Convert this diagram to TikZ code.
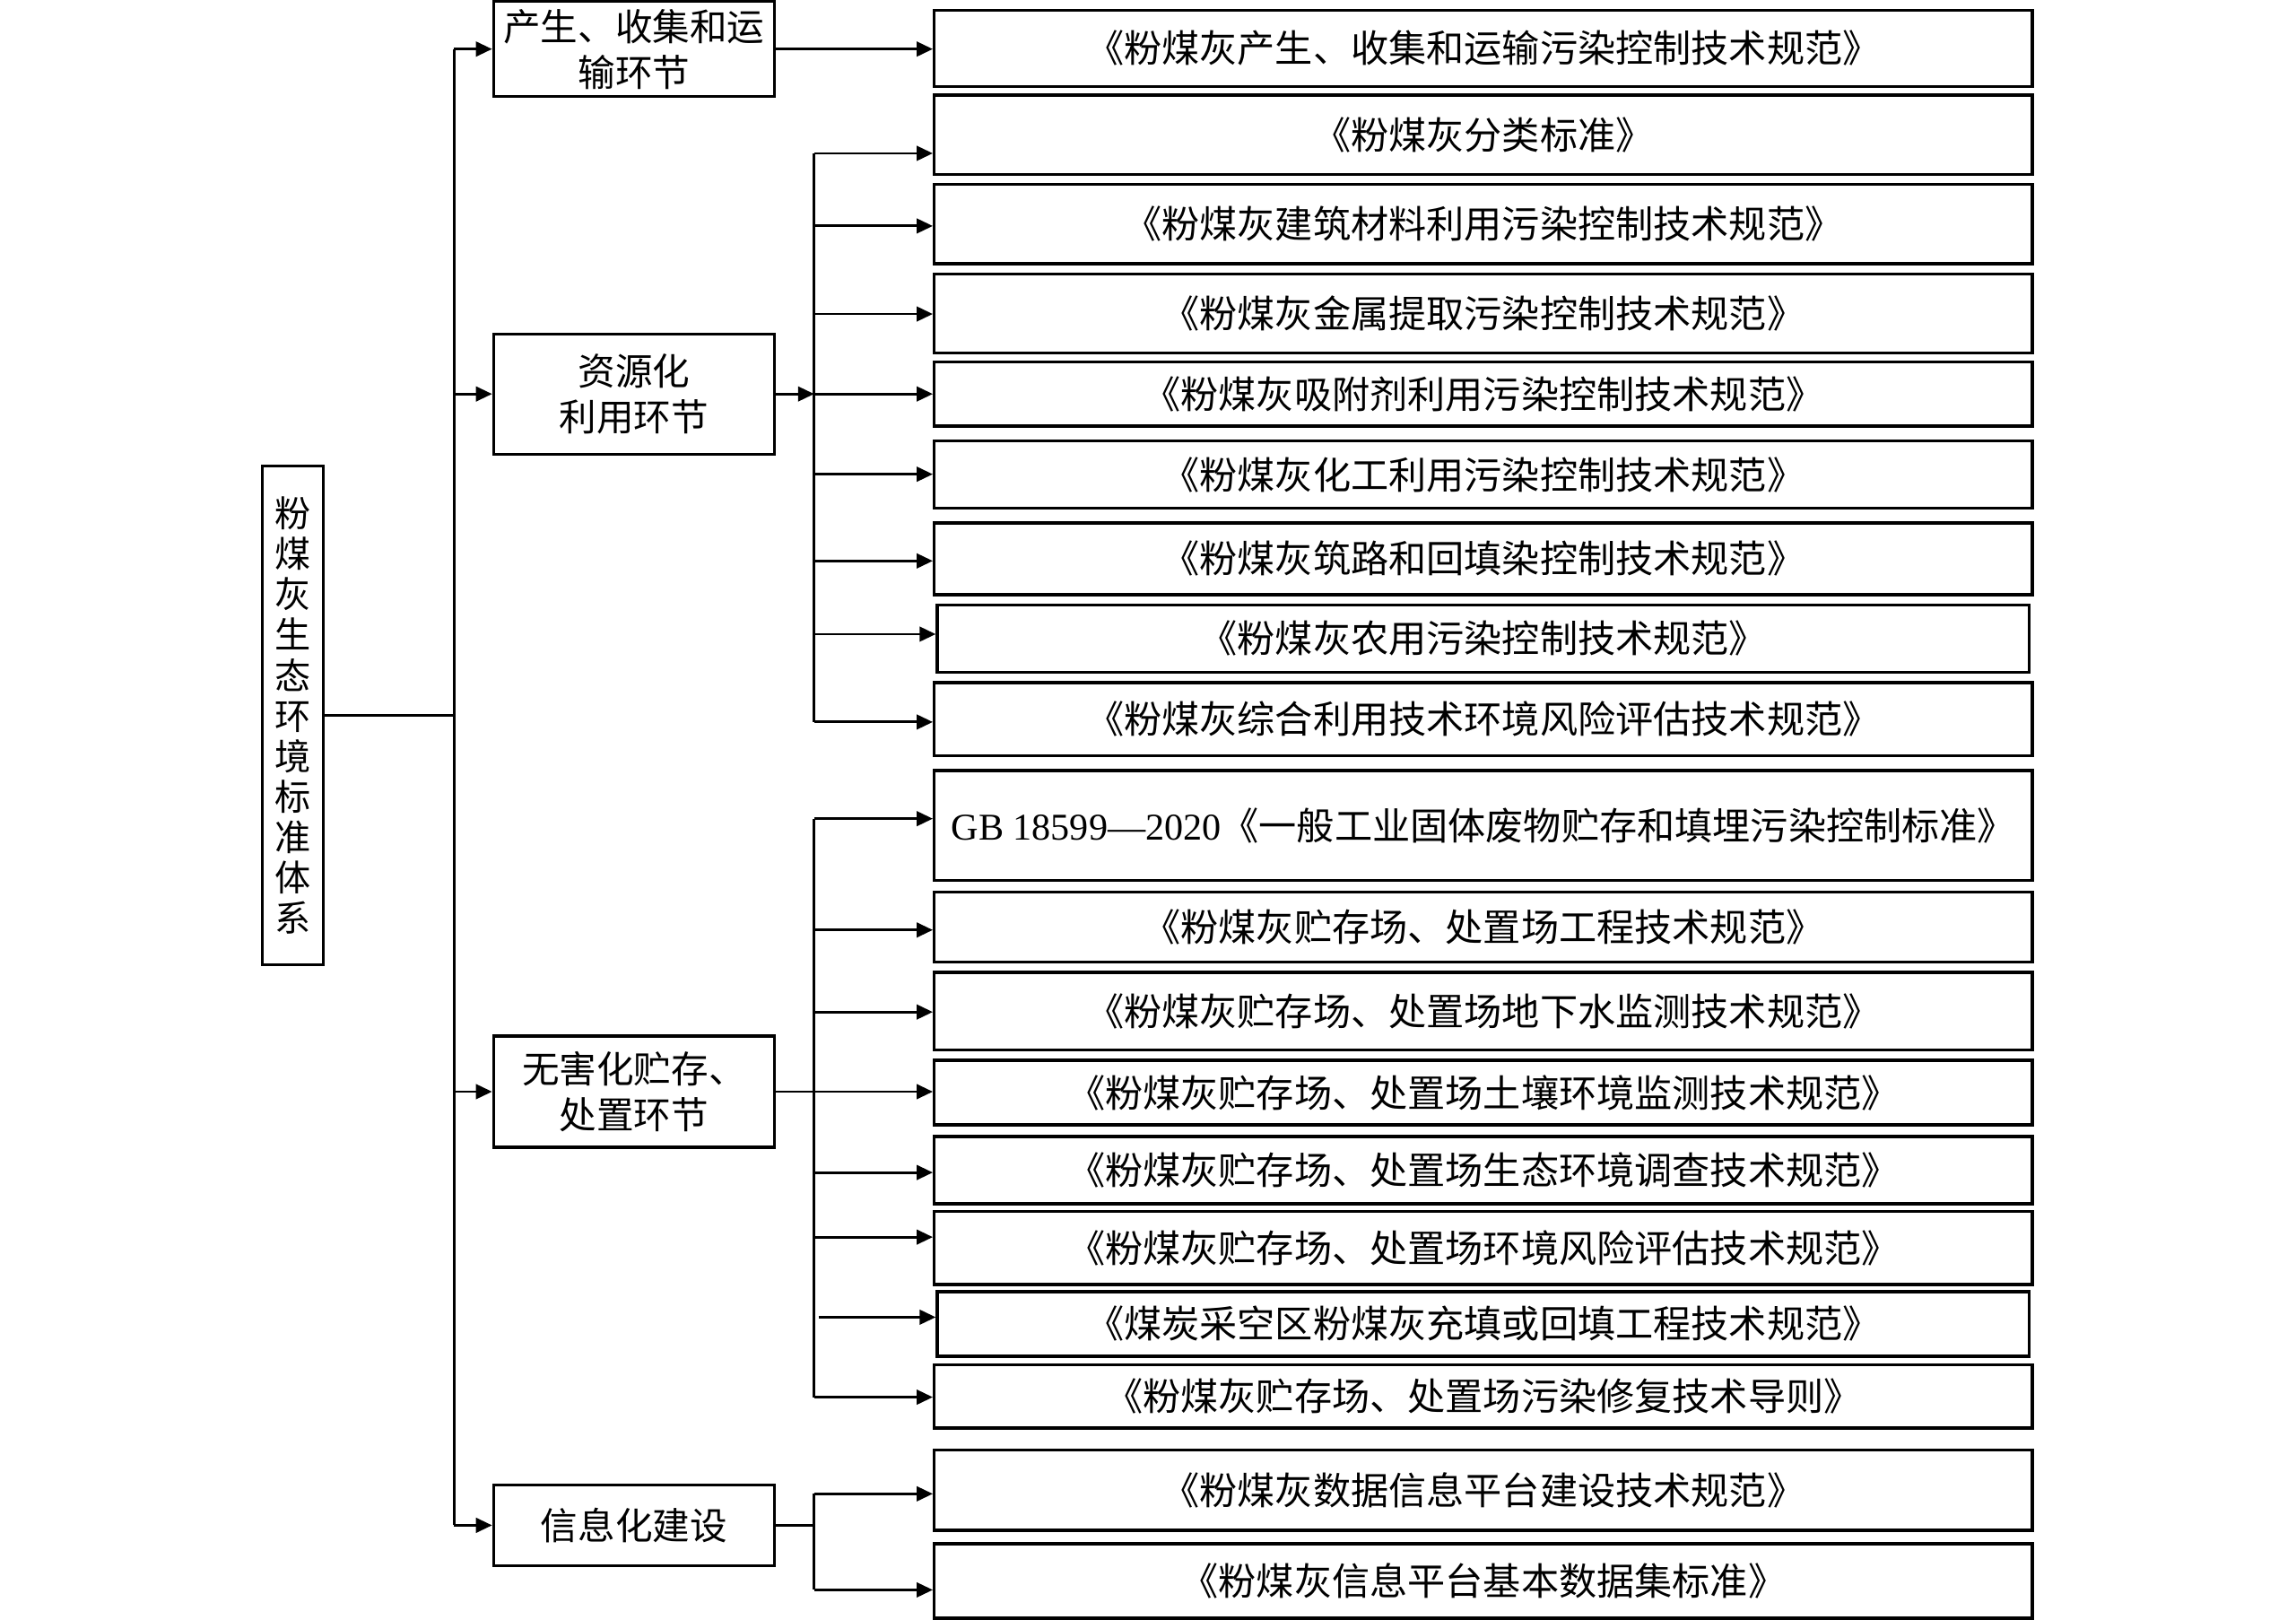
\documentclass[tikz,border=0pt]{standalone}
\usepackage{fontspec}
\setmainfont{Liberation Serif}
\newfontfamily\cjk{Noto Sans CJK SC}
\usetikzlibrary{arrows.meta}
\begin{document}
\begin{tikzpicture}[x=0.02cm,y=-0.02cm,
 line width=1pt,
 arr/.style={-{Triangle[length=0.22cm,width=0.2cm]}},
 rbox/.style={draw, line width=1.2pt, minimum width=15cm, inner sep=0pt, font=\cjk\fontsize{14.7pt}{17pt}\selectfont},
 mbox/.style={draw, line width=1.1pt, minimum width=3.84cm, inner sep=0pt, align=center, font=\cjk\fontsize{14.5pt}{17.8pt}\selectfont},
 rootbox/.style={draw, line width=1.1pt, minimum width=0.84cm, minimum height=6.82cm, inner sep=0pt, align=center, font=\cjk\fontsize{14pt}{15.7pt}\selectfont}
]
\useasboundingbox (0,0) rectangle (1568,1106);

% root
\node[rootbox] (root) at (200,488.5) {粉\\煤\\灰\\生\\态\\环\\境\\标\\准\\体\\系};

% middle boxes
\node[mbox, minimum height=1.3cm]  (A) at (433,33.5) {产生、收集和运\\输环节};
\node[mbox, minimum height=1.64cm] (B) at (433,269) {资源化\\利用环节};
\node[mbox, minimum height=1.52cm] (C) at (433,745.4) {无害化贮存、\\处置环节};
\node[mbox, minimum height=1.1cm]  (D) at (433,1041.5) {信息化建设};

% right boxes
\node[rbox, minimum height=1.04cm] (r1) at (1013,33) {《粉煤灰产生、收集和运输污染控制技术规范》};
\node[rbox, minimum height=1.08cm] (r2) at (1013,92) {《粉煤灰分类标准》};
\node[rbox, minimum height=1.08cm] (r3) at (1013,153) {《粉煤灰建筑材料利用污染控制技术规范》};
\node[rbox, minimum height=1.08cm] (r4) at (1013,214) {《粉煤灰金属提取污染控制技术规范》};
\node[rbox, minimum height=0.88cm] (r5) at (1013,269) {《粉煤灰吸附剂利用污染控制技术规范》};
\node[rbox, minimum height=0.92cm] (r6) at (1013,324) {《粉煤灰化工利用污染控制技术规范》};
\node[rbox, minimum height=0.98cm] (r7) at (1013,381.5) {《粉煤灰筑路和回填染控制技术规范》};
\node[rbox, minimum height=0.92cm, minimum width=14.92cm] (r8) at (1013,436) {《粉煤灰农用污染控制技术规范》};
\node[rbox, minimum height=1.0cm] (r9) at (1013,491) {《粉煤灰综合利用技术环境风险评估技术规范》};
\node[rbox, minimum height=1.5cm] (r10) at (1013,563.5) {{\rmfamily GB 18599—2020}《一般工业固体废物贮存和填埋污染控制标准》};
\node[rbox, minimum height=0.96cm] (r11) at (1013,633) {《粉煤灰贮存场、处置场工程技术规范》};
\node[rbox, minimum height=1.06cm] (r12) at (1013,690.5) {《粉煤灰贮存场、处置场地下水监测技术规范》};
\node[rbox, minimum height=0.88cm] (r13) at (1013,746) {《粉煤灰贮存场、处置场土壤环境监测技术规范》};
\node[rbox, minimum height=0.92cm] (r14) at (1013,799) {《粉煤灰贮存场、处置场生态环境调查技术规范》};
\node[rbox, minimum height=1.0cm] (r15) at (1013,852) {《粉煤灰贮存场、处置场环境风险评估技术规范》};
\node[rbox, minimum height=0.88cm, minimum width=14.92cm] (r16) at (1013,904) {《煤炭采空区粉煤灰充填或回填工程技术规范》};
\node[rbox, minimum height=0.86cm] (r17) at (1013,953.5) {《粉煤灰贮存场、处置场污染修复技术导则》};
\node[rbox, minimum height=1.1cm] (r18) at (1013,1017.5) {《粉煤灰数据信息平台建设技术规范》};
\node[rbox, minimum height=1.02cm] (r19) at (1013,1079.5) {《粉煤灰信息平台基本数据集标准》};

% main trunk
\coordinate (mt) at (310,33.5);
\coordinate (mb) at (310,1041.5);
\draw (root.east) -- (root.east -| mt);
\draw (mt) -- (mb);
\draw[arr] (mt) -- (A.west);
\draw[arr] (B.west -| mt) -- (B.west);
\draw[arr] (C.west -| mt) -- (C.west);
\draw[arr] (mb) -- (D.west);

% A branch
\draw[arr] (A.east) -- (A.east -| r1.west);

% B branch
\coordinate (bBt) at (556,104.7);
\coordinate (bBb) at (556,493);
\draw[arr] (B.east) -- (B.east -| bBt);
\draw (bBt) -- (bBb);
\foreach \n/\y in {r2/104.7, r3/154.3, r4/214.4, r5/269, r6/323.8, r7/383, r8/433, r9/493}
  \draw[arr] (556,\y) -- (\n.west |- 0,\y);

% C branch
\coordinate (bCt) at (556,559);
\coordinate (bCb) at (556,954);
\draw (bCt) -- (bCb);
\draw[arr] (C.east) -- (C.east -| r13.west);
\foreach \n/\y in {r10/559, r11/635, r12/691, r14/800.6, r15/844.7, r17/954}
  \draw[arr] (556,\y) -- (\n.west |- 0,\y);
\draw[arr] (559,899.4) -- (r16.west |- 0,899.4);

% D branch
\coordinate (bDt) at (556,1020);
\coordinate (bDb) at (556,1085.6);
\draw (D.east) -- (D.east -| bDt);
\draw (bDt) -- (bDb);
\draw[arr] (bDt) -- (bDt -| r18.west);
\draw[arr] (bDb) -- (bDb -| r19.west);
\end{tikzpicture}
\end{document}
